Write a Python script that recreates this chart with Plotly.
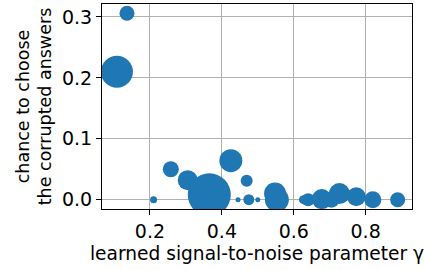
import plotly.graph_objects as go

gamma = [0.108, 0.136, 0.210, 0.258, 0.305, 0.365, 0.425, 0.469, 0.445, 0.475, 0.500,
         0.548, 0.553, 0.627, 0.640, 0.678, 0.705, 0.727, 0.774, 0.820, 0.889]
chance = [0.210, 0.306, 0.000, 0.050, 0.032, 0.008, 0.064, 0.031, 0.000, 0.000, 0.000,
          0.010, 0.000, 0.000, 0.000, 0.001, 0.000, 0.010, 0.005, 0.000, 0.000]
sizes = [32, 15, 7, 16, 20, 43, 23, 12, 5, 11, 5,
         22, 24, 9, 13, 20, 16, 21, 19, 17, 15]

x_ticks = [0.2, 0.4, 0.6, 0.8]
y_ticks = [0.0, 0.1, 0.2, 0.3]

fig = go.Figure()
fig.add_trace(go.Scatter(
    x=gamma, y=chance, mode="markers",
    marker=dict(size=sizes, color="#1f77b4", line=dict(width=0), opacity=1),
    cliponaxis=True, showlegend=False,
))

font = dict(family="DejaVu Sans", size=19, color="black")
xtitle_font = dict(family="DejaVu Sans", size=18.6, color="black")
ytitle_font = dict(family="DejaVu Sans", size=17.5, color="black")
axis_common = dict(
    showline=True, linecolor="black", linewidth=1.2, mirror=True,
    showgrid=True, gridcolor="#b0b0b0", gridwidth=1.4,
    ticks="outside", ticklen=5, tickwidth=1.2, tickcolor="black",
    zeroline=False, tickfont=font, automargin=False,
)
fig.update_layout(
    width=425, height=270,
    margin=dict(l=102, r=13, t=4, b=61),
    paper_bgcolor="white", plot_bgcolor="white",
    font=font,
    xaxis=dict(range=[0.0665, 0.929], tickvals=x_ticks,
               ticktext=[f"{v:.1f}" for v in x_ticks],
               title=dict(text="learned signal-to-noise parameter γ", font=xtitle_font, standoff=6),
               **axis_common),
    yaxis=dict(range=[-0.0153, 0.3213], tickvals=y_ticks,
               ticktext=[f"{v:.1f}" for v in y_ticks],
               title=dict(text="chance to choose<br>the corrupted answers", font=ytitle_font, standoff=5),
               **axis_common),
)
fig.write_html("out.html", post_script="document.body.style.margin='0';",
               config={"displayModeBar": False})
